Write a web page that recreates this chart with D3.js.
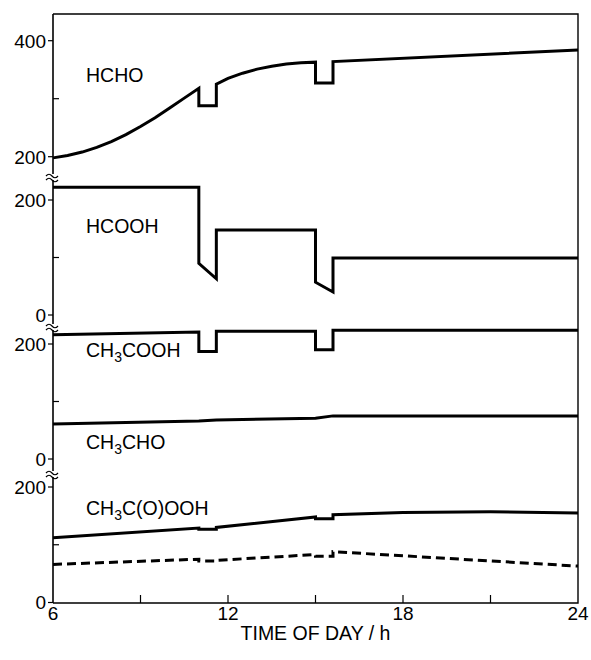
<!DOCTYPE html>
<html>
<head>
<meta charset="utf-8">
<script src="https://cdn.jsdelivr.net/npm/d3@7"></script>
<style>
  body { margin: 0; background: #fff; }
  text { font-family: "Liberation Sans", Arial, sans-serif; fill: #000; }
</style>
</head>
<body>
<svg id="chart" width="591" height="660"></svg>
<script>
// time of day (h) and mixing ratios; repeated times are the steps
var hchoTime  = [6, 6.5, 7, 7.5, 8, 8.5, 9, 9.5, 10, 10.5, 11, 11, 11.6, 11.6, 12, 12.5, 13, 13.5, 14, 14.5, 15, 15, 15.6, 15.6, 24];
var hchoValue = [198, 202, 208, 216, 226, 238, 252, 267, 284, 301, 318, 288, 288, 325, 335, 344, 351, 356, 360, 362, 363, 327, 327, 364, 384];

var hcoohTime  = [6, 11, 11, 11.6, 11.6, 15, 15, 15.6, 15.6, 24];
var hcoohValue = [222, 222, 90, 63, 148, 148, 57, 40, 99, 99];

var ch3coohTime  = [6, 11, 11, 11.6, 11.6, 15, 15, 15.6, 15.6, 24];
var ch3coohValue = [216, 221, 187, 187, 222, 222, 190, 190, 224, 224];

var ch3choTime  = [6, 11, 11.6, 15, 15.6, 24];
var ch3choValue = [61, 66, 68, 71, 75, 75];

var paaTime  = [6, 11, 11, 11.6, 11.6, 15, 15, 15.6, 15.6, 18, 21, 24];
var paaValue = [112, 129, 127, 127, 130, 148, 145, 145, 152, 156, 157, 155];

var dashTime  = [6, 11, 11, 11.6, 11.6, 15, 15, 15.6, 15.6, 24];
var dashValue = [66, 75, 72, 72, 73, 83, 80, 80, 88, 63];

var xTicks = [6, 9, 12, 15, 18, 21, 24];
var xLabels = [6, 12, 18, 24];

var svg = d3.select("#chart"),
    plotL = 53, plotR = 578, plotT = 14, plotB = 603;

var x = d3.scaleLinear().domain([6, 24]).range([plotL, plotR]);

// four stacked panels, each with its own y scale
var panels = [
  {y: d3.scaleLinear().domain([200, 400]).range([156.7, 40.7]), labels: [200, 400], minor: [300]},
  {y: d3.scaleLinear().domain([0, 200]).range([315, 200]), labels: [0, 200], minor: [100]},
  {y: d3.scaleLinear().domain([0, 200]).range([459, 344]), labels: [0, 200], minor: [100]},
  {y: d3.scaleLinear().domain([0, 200]).range([602.5, 487]), labels: [0, 200], minor: [100]}
];
var breaks = [177, 327, 474];

function series(t, v) {
  return t.map(function(d, i) { return [d, v[i]]; });
}

var lines = [
  {p: 0, data: series(hchoTime, hchoValue)},
  {p: 1, data: series(hcoohTime, hcoohValue)},
  {p: 2, data: series(ch3coohTime, ch3coohValue)},
  {p: 2, data: series(ch3choTime, ch3choValue)},
  {p: 3, data: series(paaTime, paaValue)},
  {p: 3, data: series(dashTime, dashValue), dash: "9,5"}
];

// frame
svg.append("path")
    .attr("d", "M" + plotL + "," + plotT + "H" + plotR + "V" + plotB + "H" + plotL)
    .attr("fill", "none")
    .attr("stroke", "#000")
    .attr("stroke-width", 1.4);

svg.append("line")
    .attr("x1", plotL).attr("x2", plotL)
    .attr("y1", plotT).attr("y2", plotB)
    .attr("stroke", "#000")
    .attr("stroke-width", 1.6);

// left ticks: labelled ones outward, minor ones inward
panels.forEach(function(p) {
  var g = svg.append("g");
  g.selectAll("line.major")
      .data(p.labels)
    .enter().append("line")
      .attr("x1", plotL - 5).attr("x2", plotL)
      .attr("y1", function(d) { return p.y(d); })
      .attr("y2", function(d) { return p.y(d); })
      .attr("stroke", "#000").attr("stroke-width", 1.2);
  g.selectAll("line.minor")
      .data(p.minor)
    .enter().append("line")
      .attr("x1", plotL).attr("x2", plotL + 6)
      .attr("y1", function(d) { return p.y(d); })
      .attr("y2", function(d) { return p.y(d); })
      .attr("stroke", "#000").attr("stroke-width", 1.2);
  g.selectAll("text")
      .data(p.labels)
    .enter().append("text")
      .attr("x", plotL - 7)
      .attr("y", function(d) { return p.y(d); })
      .attr("dy", "0.36em")
      .attr("text-anchor", "end")
      .attr("font-size", "19px")
      .text(function(d) { return d; });
});

// axis breaks
breaks.forEach(function(b) {
  svg.append("rect")
      .attr("x", plotL - 2).attr("y", b - 3)
      .attr("width", 4).attr("height", 6)
      .attr("fill", "#fff");
  [-2, 2].forEach(function(o) {
    svg.append("path")
        .attr("d", "M" + (plotL - 7) + "," + (b + o + 1) + " q3,-3.5 6,0 t6,0")
        .attr("fill", "none")
        .attr("stroke", "#000")
        .attr("stroke-width", 1.2);
  });
});

// bottom ticks (inward) and labels
svg.append("g").selectAll("line")
    .data(xTicks.slice(1, -1))
  .enter().append("line")
    .attr("x1", function(d) { return x(d); })
    .attr("x2", function(d) { return x(d); })
    .attr("y1", plotB - 8).attr("y2", plotB)
    .attr("stroke", "#000").attr("stroke-width", 1.2);

svg.append("g").selectAll("text")
    .data(xLabels)
  .enter().append("text")
    .attr("x", function(d) { return x(d); })
    .attr("y", 620)
    .attr("text-anchor", "middle")
    .attr("font-size", "19px")
    .text(function(d) { return d; });

svg.append("text")
    .attr("x", (plotL + plotR) / 2)
    .attr("y", 640)
    .attr("text-anchor", "middle")
    .attr("font-size", "19.5px")
    .text("TIME OF DAY / h");

// data lines
lines.forEach(function(l) {
  var p = panels[l.p];
  var line = d3.line()
      .x(function(d) { return x(d[0]); })
      .y(function(d) { return p.y(d[1]); });
  svg.append("path")
      .datum(l.data)
      .attr("d", line)
      .attr("fill", "none")
      .attr("stroke", "#000")
      .attr("stroke-width", 3)
      .attr("stroke-linejoin", "miter")
      .attr("stroke-dasharray", l.dash || null);
});

// species labels
var labels = [
  {x: 86, y: 82, parts: ["HCHO"]},
  {x: 86, y: 233, parts: ["HCOOH"]},
  {x: 86, y: 357, parts: ["CH", "3", "COOH"]},
  {x: 86, y: 449, parts: ["CH", "3", "CHO"]},
  {x: 86, y: 515, parts: ["CH", "3", "C(O)OOH"]}
];

labels.forEach(function(l) {
  var t = svg.append("text")
      .attr("x", l.x).attr("y", l.y)
      .attr("font-size", "19.5px");
  l.parts.forEach(function(s, i) {
    var sub = (i % 2 == 1);
    t.append("tspan")
        .attr("font-size", sub ? "14px" : "19.5px")
        .attr("dy", sub ? 5 : (i > 0 ? -5 : 0))
        .text(s);
  });
});
</script>
</body>
</html>
